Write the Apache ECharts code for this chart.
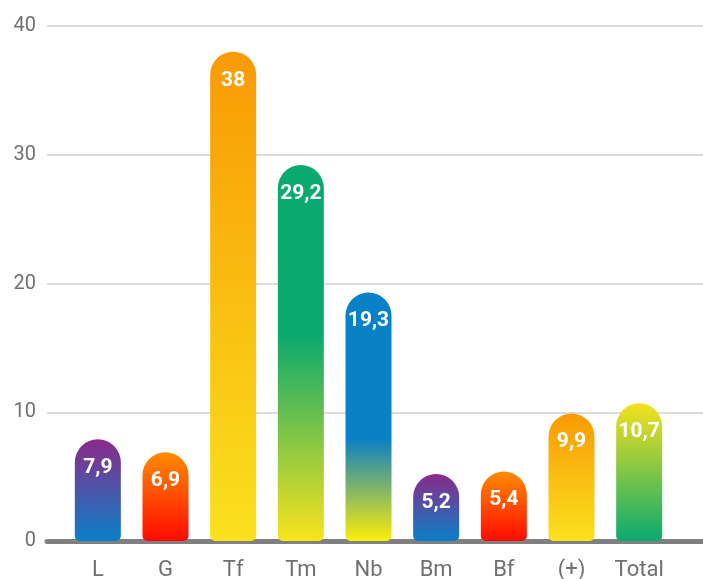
<!DOCTYPE html>
<html>
<head>
<meta charset="utf-8">
<script src="https://cdn.jsdelivr.net/npm/echarts@6/dist/echarts.min.js"></script>
<style>
  html, body { margin: 0; padding: 0; background: #fff; }
  #chart { width: 703px; height: 579px; }
</style>
</head>
<body>
<div id="chart"></div>
<script>
// data
var categories = ['L', 'G', 'Tf', 'Tm', 'Nb', 'Bm', 'Bf', '(+)', 'Total'];
var values = [7.9, 6.9, 38, 29.2, 19.3, 5.2, 5.4, 9.9, 10.7];
var yTicks = [0, 10, 20, 30, 40];

// gradient per bar (top -> bottom)
var purpleBlue = [[0, '#8b2a8a'], [1, '#0a80c8']];
var orangeRed = [[0, '#ff8c00'], [1, '#ff0a00']];
var orangeYellow = [[0, '#f99a05'], [1, '#fae11e']];
var greenYellow = [[0, '#09a96f'], [0.45, '#09a96f'], [1, '#fae31c']];
var blueYellow = [[0, '#0a80c6'], [0.59, '#0a80c6'], [1, '#fbee08']];
var yellowGreen = [[0, '#f6e11c'], [1, '#0aaa70']];
var gradients = [purpleBlue, orangeRed, orangeYellow, greenYellow, blueYellow,
                 purpleBlue, orangeRed, orangeYellow, yellowGreen];

function grad(stops) {
  return {
    type: 'linear', x: 0, y: 0, x2: 0, y2: 1,
    colorStops: stops.map(function (s) { return { offset: s[0], color: s[1] }; })
  };
}

var barData = values.map(function (v, i) {
  return { value: v, itemStyle: { color: grad(gradients[i]) } };
});

var chart = echarts.init(document.getElementById('chart'));

var option = {
  animation: false,
  textStyle: { fontFamily: 'Roboto' },
  grid: [
    // grid for gridlines + y axis + thick base line
    { left: 47, right: 0, top: 26, bottom: 38, outerBoundsMode: 'none' },
    // grid for bars + category labels
    { left: 64, right: 30, top: 26, bottom: 38, outerBoundsMode: 'none' }
  ],
  xAxis: [
    {
      type: 'category', gridIndex: 0, data: categories,
      offset: 2,
      axisLine: { lineStyle: { color: '#808080', width: 5 } },
      axisTick: { show: false },
      axisLabel: { show: false }
    },
    {
      type: 'category', gridIndex: 1, data: categories,
      axisLine: { show: false },
      axisTick: { show: false },
      axisLabel: { color: '#707070', fontSize: 22, margin: 18 }
    }
  ],
  yAxis: [
    {
      type: 'value', gridIndex: 0,
      min: yTicks[0], max: yTicks[yTicks.length - 1], interval: 10,
      axisLine: { show: false },
      axisTick: { show: false },
      axisLabel: { color: '#707070', fontSize: 20, margin: 11 },
      splitLine: { lineStyle: { color: '#d0d0d0', width: 1.5 } }
    },
    {
      type: 'value', gridIndex: 1,
      min: yTicks[0], max: yTicks[yTicks.length - 1], interval: 10,
      show: false,
      splitLine: { show: false }
    }
  ],
  series: [
    {
      type: 'bar',
      xAxisIndex: 1, yAxisIndex: 1,
      barWidth: 46,
      data: barData,
      itemStyle: { borderRadius: [23, 23, 5, 5] },
      label: {
        show: true,
        position: 'insideTop',
        distance: 18,
        color: '#fff',
        fontSize: 21,
        fontWeight: 'bold',
        formatter: function (p) { return String(p.value).replace('.', ','); }
      }
    }
  ]
};

chart.setOption(option);
</script>
</body>
</html>
